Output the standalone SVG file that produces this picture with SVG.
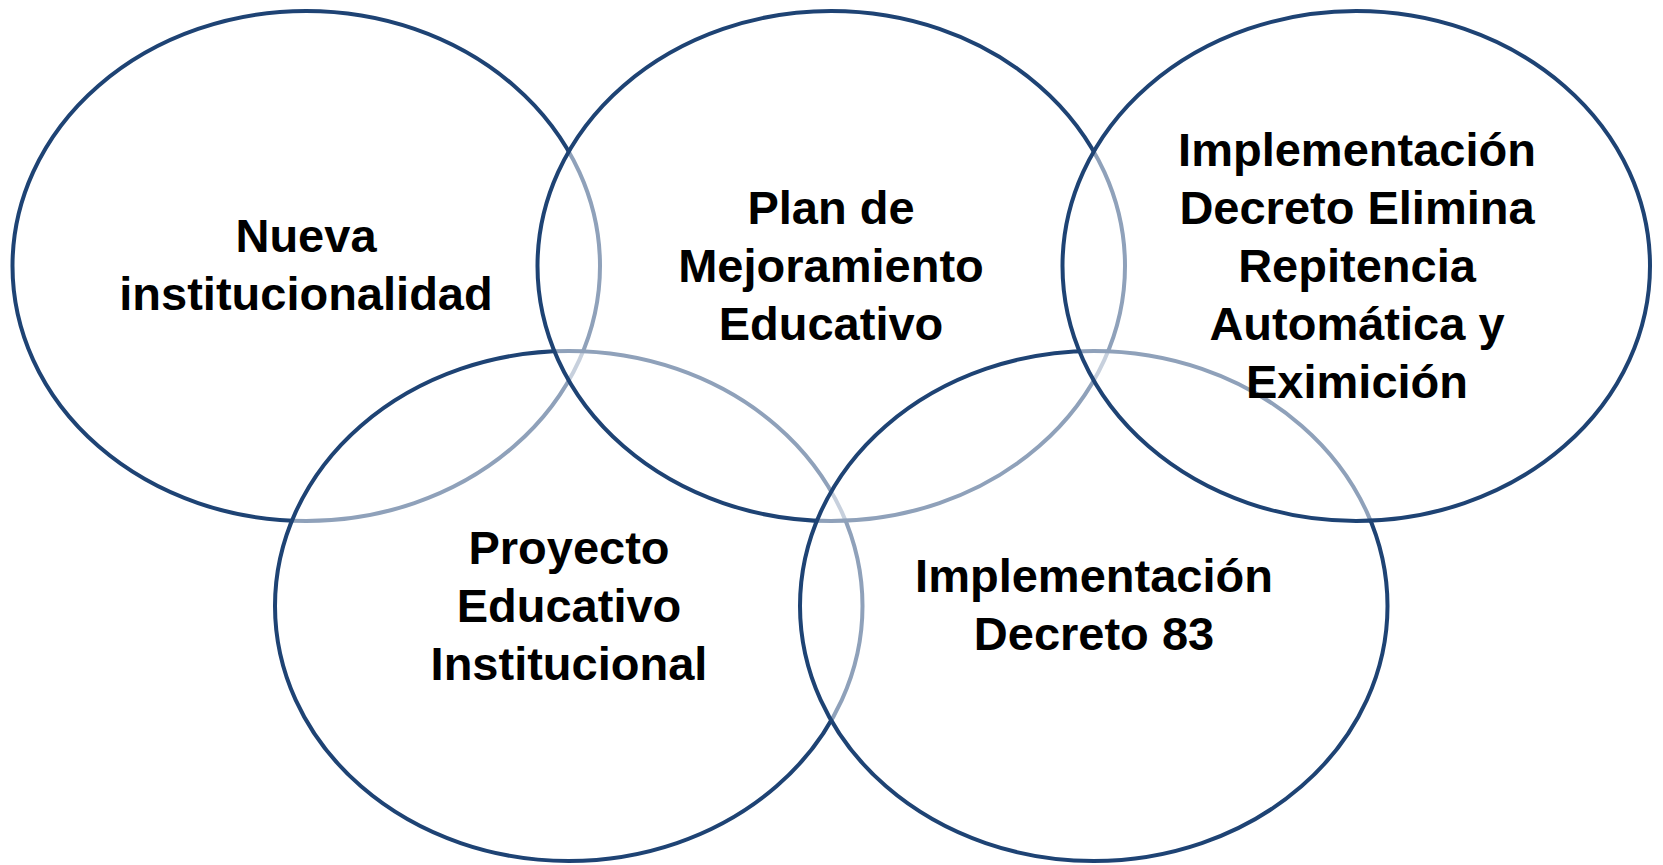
<svg xmlns="http://www.w3.org/2000/svg" width="1663" height="865" viewBox="0 0 1663 865">
<style>
.c{fill:#ffffff;fill-opacity:0.5;stroke:#1E4374;stroke-width:4}
.t{font-family:"Liberation Sans",Arial,sans-serif;font-weight:bold;font-size:47px;fill:#000;text-anchor:middle}
</style>
<rect width="1663" height="865" fill="#ffffff"/>
<g id="connectors"></g>
<g id="nueva">
<ellipse class="c" cx="306.25" cy="266" rx="293.75" ry="255"/>
<text class="t" x="306" y="252">Nueva</text>
<text class="t" x="306" y="310">institucionalidad</text>
</g>
<g id="proyecto">
<ellipse class="c" cx="568.75" cy="606" rx="293.75" ry="255"/>
<text class="t" x="569" y="564">Proyecto</text>
<text class="t" x="569" y="622">Educativo</text>
<text class="t" x="569" y="680">Institucional</text>
</g>
<g id="plan">
<ellipse class="c" cx="831.25" cy="266" rx="293.75" ry="255"/>
<text class="t" x="831" y="224">Plan de</text>
<text class="t" x="831" y="282">Mejoramiento</text>
<text class="t" x="831" y="340">Educativo</text>
</g>
<g id="decreto83">
<ellipse class="c" cx="1093.75" cy="606" rx="293.75" ry="255"/>
<text class="t" x="1094" y="592">Implementación</text>
<text class="t" x="1094" y="650">Decreto 83</text>
</g>
<g id="repitencia">
<ellipse class="c" cx="1356.25" cy="266" rx="293.75" ry="255"/>
<text class="t" x="1357" y="166">Implementación</text>
<text class="t" x="1357" y="224">Decreto Elimina</text>
<text class="t" x="1357" y="282">Repitencia</text>
<text class="t" x="1357" y="340">Automática y</text>
<text class="t" x="1357" y="398">Eximición</text>
</g>
</svg>
